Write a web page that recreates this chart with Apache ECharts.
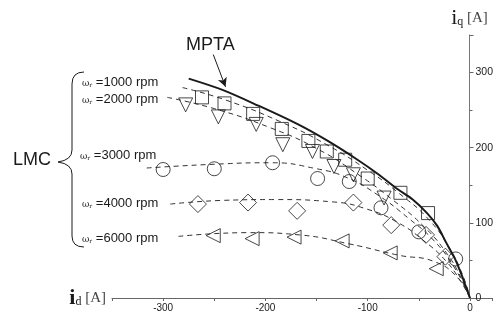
<!DOCTYPE html>
<html><head><meta charset="utf-8">
<script src="https://cdn.jsdelivr.net/npm/echarts@6/dist/echarts.min.js"></script>
<style>html,body{margin:0;padding:0;background:#fff}#c{width:496px;height:321px}</style>
</head><body><div id="c"></div>
<script>
// MPTA trajectory (solid)
const mptaCurve = [[-275,292],[-242,277],[-207,256],[-168,231],[-139,209],[-110,184],[-90,165],[-71,145],[-56,131],[-42,113],[-32,96],[-23,73],[-15,53],[-10,37],[-5,19],[0,0]];
// LMC calculated curves (dashed)
const lmc1000Line = [[-281,280],[-240,264],[-186,235],[-140,204],[-100,170],[-70,140],[-40,104],[-20,66],[-7,30],[0,0]];
const lmc2000Line = [[-296,267],[-250,252],[-196,227],[-150,199],[-110,165],[-75,130],[-45,95],[-22,58],[-8,25],[0,0]];
const lmc3000Line = [[-316,173],[-250,178],[-195,180],[-150,172],[-120,160],[-90,137],[-60,106],[-35,76],[-15,40],[0,0]];
const lmc4000Line = [[-293,125],[-240,130],[-190,131],[-135,128],[-100,118],[-70,100],[-45,76],[-24,50],[-9,22],[0,0]];
const lmc6000Line = [[-285,82],[-216,87],[-167,84],[-118,72],[-70,57],[-34,48],[-10,24],[0,0]];
// measured points
const pts1000 = [[-262,267],[-240,259],[-212,245],[-184,225],[-158,209],[-140,195],[-122,184],[-100,159],[-68,140],[-41,113]];
const pts2000 = [[-278,257],[-246,241],[-209,231],[-183,204],[-154,195],[-133,175],[-114,164],[-84,133]];
const pts3000 = [[-300,171],[-250,172],[-193,180],[-149,159],[-118,155],[-87,120],[-50,88],[-14,52]];
const pts4000 = [[-266,125],[-217,127],[-169,116],[-114,127],[-77,97],[-43,84],[-24,55]];
const pts6000 = [[-251,83],[-213,79],[-172,81],[-125,76],[-78,60],[-33,39]];
const speedLabels = ['1000','2000','3000','4000','6000'];
const xTickLabels = [-300,-200,-100,0];
const yTickLabels = [0,100,200,300];

const chart = echarts.init(document.getElementById('c'));
const ink = '#1a1a1a';
const dashed = (d) => ({type:'line', data:d, smooth:true, symbol:'none', silent:true,
  lineStyle:{color:'#333', width:1, type:[5,4]}, z:2});
const scat = (d, sym, size, rot) => ({type:'scatter', data:d, symbol:sym, symbolSize:size, symbolRotate:rot||0,
  itemStyle:{color:'rgba(0,0,0,0)', borderColor:ink, borderWidth:1}, z:3});

const labelPos = [[82,82],[82,99],[80,155],[82,203],[82,238]];
const graphics = speedLabels.map((s,i)=>({type:'text', x:labelPos[i][0], y:labelPos[i][1],
  style:{text:'{w|ω}{s|r}{t| =' + s + ' rpm}', verticalAlign:'middle', rich:{
    w:{fontFamily:'DejaVu Serif', fontSize:9, fill:ink, verticalAlign:'bottom'},
    s:{fontFamily:'DejaVu Serif', fontSize:6, fill:ink, verticalAlign:'bottom'},
    t:{fontFamily:'Liberation Sans', fontSize:13, fill:ink, verticalAlign:'bottom'}}}}));
graphics.push({type:'text', x:186, y:45, style:{text:'MPTA', font:'18px "Liberation Sans"', fill:ink, verticalAlign:'middle'}});
graphics.push({type:'text', x:13, y:160, style:{text:'LMC', font:'18px "Liberation Sans"', fill:ink, verticalAlign:'middle'}});
const braceStyle = {fill:'none', stroke:ink, lineWidth:1};
graphics.push({type:'bezierCurve', shape:{x1:84,y1:72,x2:72,y2:84,cpx1:72,cpy1:72}, style:braceStyle});
graphics.push({type:'line', shape:{x1:72,y1:84,x2:72,y2:150}, style:braceStyle});
graphics.push({type:'bezierCurve', shape:{x1:72,y1:150,x2:58,y2:162,cpx1:72,cpy1:160}, style:braceStyle});
graphics.push({type:'bezierCurve', shape:{x1:58,y1:162,x2:72,y2:174,cpx1:72,cpy1:164}, style:braceStyle});
graphics.push({type:'line', shape:{x1:72,y1:174,x2:72,y2:236}, style:braceStyle});
graphics.push({type:'bezierCurve', shape:{x1:72,y1:236,x2:84,y2:247,cpx1:72,cpy1:247}, style:braceStyle});

chart.setOption({
  animation:false,
  grid:{left:112, right:0, top:35, bottom:23},
  xAxis:{type:'value', min:-350, max:22, interval:50,
    name:'{i|i}{d|d}{a| [A]}', nameLocation:'start', nameGap:6,
    nameTextStyle:{rich:{
      i:{fontFamily:'Liberation Serif', fontWeight:'bold', fontSize:22, color:ink},
      d:{fontFamily:'Liberation Serif', fontSize:12, color:ink, padding:[8,0,0,0]},
      a:{fontFamily:'Liberation Serif', fontSize:15, color:'#444'}}},
    axisLine:{onZero:false, lineStyle:{color:'#666', width:1}},
    axisTick:{length:3, lineStyle:{color:'#666'}},
    axisLabel:{fontFamily:'Liberation Sans', fontSize:10, color:ink, margin:5,
      formatter:(v)=> xTickLabels.includes(v) ? String(v) : ''},
    splitLine:{show:false}},
  yAxis:{type:'value', min:0, max:350, interval:100, position:'right', offset:-23,
    name:'{i|i}{q|q}{a| [A]}', nameLocation:'end', nameGap:6,
    nameTextStyle:{rich:{
      i:{fontFamily:'Liberation Serif', fontSize:22, color:ink},
      q:{fontFamily:'Liberation Serif', fontSize:12, color:ink, padding:[8,0,0,0]},
      a:{fontFamily:'Liberation Serif', fontSize:15, color:'#444'}}},
    axisLine:{show:true, onZero:false, lineStyle:{color:'#777', width:1}},
    axisTick:{show:true, length:4, lineStyle:{color:'#666'}},
    minorTick:{show:true, splitNumber:2, length:3, lineStyle:{color:'#666'}},
    axisLabel:{fontFamily:'Liberation Sans', fontSize:10.5, color:ink, margin:6,
      formatter:(v)=> yTickLabels.includes(v) ? String(v) : ''},
    splitLine:{show:false}},
  graphic:graphics,
  series:[
    {type:'line', data:mptaCurve, smooth:0.3, symbol:'none', lineStyle:{color:ink, width:2}, z:4,
      markLine:{silent:true, symbol:['none','arrow'], symbolSize:[7,9], lineStyle:{color:ink, width:1, type:'solid'}, label:{show:false},
        data:[[{coord:[-251,324]},{coord:[-239,281]}]]}},
    dashed(lmc1000Line), dashed(lmc2000Line), dashed(lmc3000Line), dashed(lmc4000Line), dashed(lmc6000Line),
    scat(pts1000,'rect',13), scat(pts2000,'triangle',14,180), scat(pts3000,'circle',14),
    scat(pts4000,'diamond',17), scat(pts6000,'triangle',14,90)
  ]
});
</script></body></html>
